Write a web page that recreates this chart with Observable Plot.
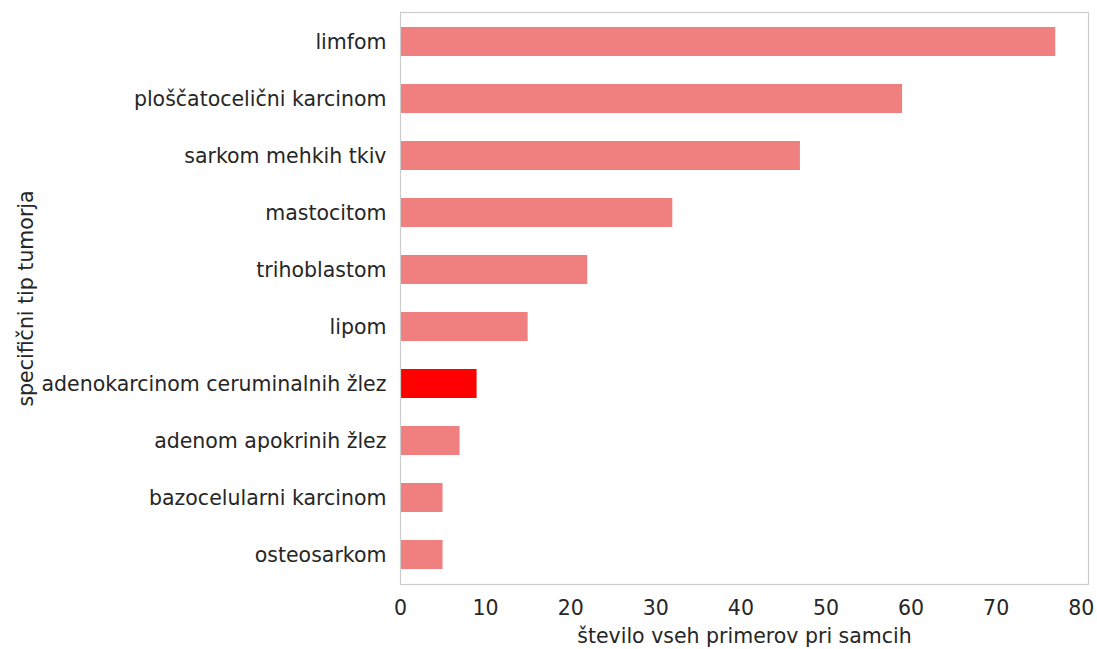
<!DOCTYPE html>
<html>
<head>
<meta charset="utf-8">
<script src="https://cdn.jsdelivr.net/npm/d3@7"></script>
<script src="https://cdn.jsdelivr.net/npm/@observablehq/plot@0.6"></script>
<style>
  html, body { margin: 0; padding: 0; background: #fff; }
  #chart svg { font-family: "DejaVu Sans", sans-serif; }
</style>
</head>
<body>
<div id="chart"></div>
<script>
const categories = [
  "limfom",
  "ploščatocelični karcinom",
  "sarkom mehkih tkiv",
  "mastocitom",
  "trihoblastom",
  "lipom",
  "adenokarcinom ceruminalnih žlez",
  "adenom apokrinih žlez",
  "bazocelularni karcinom",
  "osteosarkom"
];
const counts = [77, 59, 47, 32, 22, 15, 9, 7, 5, 5];
const highlighted = "adenokarcinom ceruminalnih žlez";
const xTicks = [0, 10, 20, 30, 40, 50, 60, 70, 80];
const xLabel = "število vseh primerov pri samcih";
const yLabel = "specifični tip tumorja";

const data = categories.map((c, i) => ({category: c, count: counts[i], hl: c === highlighted}));

const chart = Plot.plot({
  width: 1097,
  height: 649,
  marginLeft: 400,
  marginRight: 9,
  marginTop: 12,
  marginBottom: 65,
  style: {fontFamily: "DejaVu Sans, sans-serif", fontSize: "20.5px", color: "#262626", background: "#fff"},
  x: {domain: [0, 80.85], ticks: xTicks, tickSize: 0, tickPadding: 16, label: xLabel, labelAnchor: "center", labelOffset: 58, labelArrow: "none"},
  y: {domain: categories, paddingInner: 0.5, paddingOuter: 0.25, tickSize: 0, tickPadding: 14, label: yLabel, labelAnchor: "center", labelOffset: 382, labelArrow: "none"},
  marks: [
    Plot.barX(data, {y: "category", x: "count", fill: d => d.hl ? "#ff0000" : "#f08080"}),
    Plot.frame({stroke: "#cccccc", strokeWidth: 1.2})
  ]
});
document.getElementById("chart").appendChild(chart);
</script>
</body>
</html>
